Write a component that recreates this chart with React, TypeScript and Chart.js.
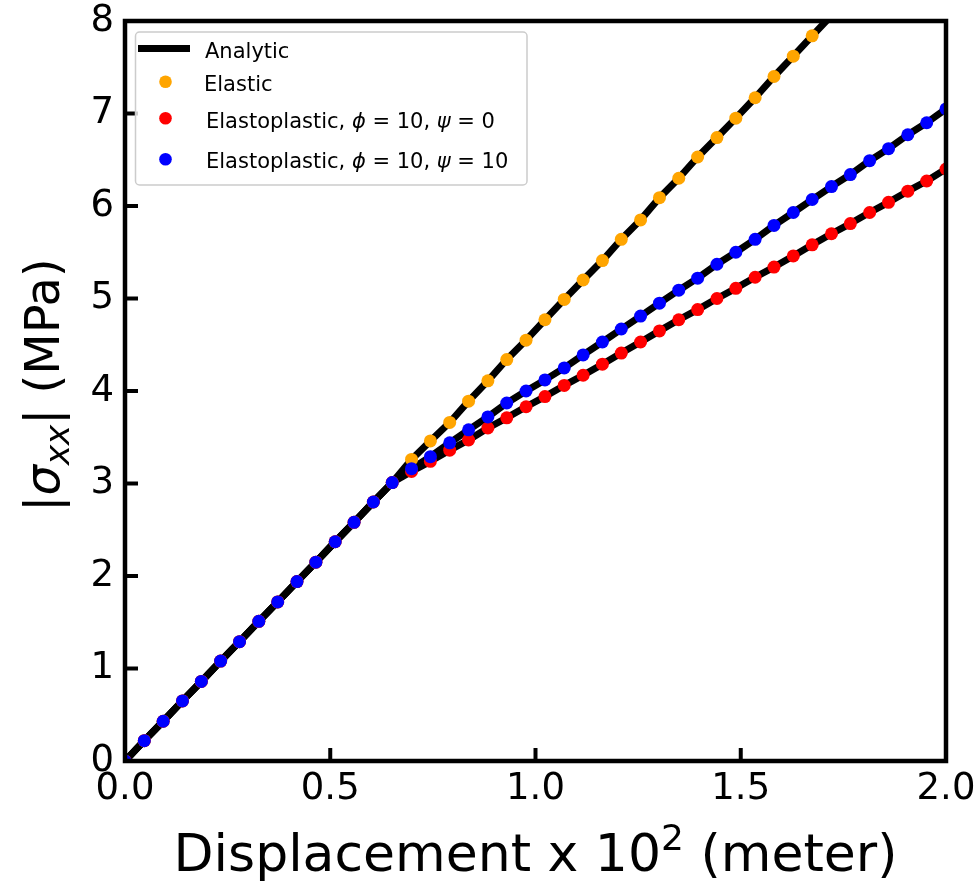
import React, { useEffect, useRef } from "react";
import { Chart, registerables } from "chart.js";

Chart.register(...registerables);

// ---------- data ----------
const xValues = [
  0, 0.047, 0.093, 0.14, 0.186, 0.233, 0.279, 0.326, 0.372, 0.419, 0.465,
  0.512, 0.558, 0.605, 0.651, 0.698, 0.744, 0.791, 0.837, 0.884, 0.93,
  0.977, 1.023, 1.07, 1.116, 1.163, 1.209, 1.256, 1.302, 1.349, 1.395,
  1.442, 1.488, 1.535, 1.581, 1.628, 1.674, 1.721, 1.767, 1.814, 1.86,
  1.907, 1.953, 2.0,
];

// shared elastic branch (before yield)
const sharedY = [
  0, 0.22, 0.43, 0.65, 0.86, 1.08, 1.29, 1.51, 1.72, 1.94, 2.15, 2.37, 2.58,
  2.8, 3.01,
];
const elasticTail = [
  3.26, 3.46, 3.66, 3.89, 4.11, 4.34, 4.55, 4.77, 4.99, 5.2, 5.41, 5.64, 5.85,
  6.09, 6.3, 6.53, 6.74, 6.95, 7.17, 7.4, 7.62, 7.84,
];
const elasticAnalyticExtra = [8.06];
const ep0Tail = [
  3.13, 3.24, 3.36, 3.47, 3.6, 3.71, 3.83, 3.94, 4.06, 4.17, 4.29, 4.41, 4.53,
  4.65, 4.77, 4.88, 5.0, 5.11, 5.23, 5.34, 5.46, 5.58, 5.7, 5.81, 5.93, 6.04,
  6.16, 6.27, 6.4,
];
const ep10Tail = [
  3.16, 3.29, 3.44, 3.58, 3.72, 3.87, 4.0, 4.12, 4.25, 4.39, 4.53, 4.67, 4.81,
  4.95, 5.09, 5.22, 5.37, 5.5, 5.64, 5.79, 5.93, 6.07, 6.21, 6.34, 6.49, 6.62,
  6.77, 6.9, 7.05,
];

const xTicks = [0, 0.5, 1.0, 1.5, 2.0];
const yTicks = [0, 1, 2, 3, 4, 5, 6, 7, 8];

const FONT = "'DejaVu Sans', sans-serif";
const ORANGE = "#FFA500";
const RED = "#FF0000";
const BLUE = "#0000FF";

function toPoints(ys: number[]) {
  return ys.map((y, i) => ({ x: xValues[i], y }));
}

type Part = { t: string; italic?: boolean; size: number; dy?: number };

function partsWidth(ctx: CanvasRenderingContext2D, parts: Part[]) {
  let w = 0;
  for (const p of parts) {
    ctx.font = `${p.italic ? "italic " : ""}${p.size}px ${FONT}`;
    w += ctx.measureText(p.t).width;
  }
  return w;
}

function drawParts(
  ctx: CanvasRenderingContext2D,
  x: number,
  y: number,
  parts: Part[]
) {
  let cx = x;
  for (const p of parts) {
    ctx.font = `${p.italic ? "italic " : ""}${p.size}px ${FONT}`;
    ctx.fillText(p.t, cx, y + (p.dy || 0));
    cx += ctx.measureText(p.t).width;
  }
}

const framePlugin = {
  id: "frameAndDecor",
  afterDatasetsDraw(chart: any) {
    const { ctx, chartArea: a, scales } = chart;
    ctx.save();
    ctx.strokeStyle = "#000";
    ctx.lineCap = "butt";
    ctx.lineWidth = 4;
    const tickLen = 13;
    for (const v of xTicks) {
      const px = scales.x.getPixelForValue(v);
      ctx.beginPath();
      ctx.moveTo(px, a.bottom);
      ctx.lineTo(px, a.bottom - tickLen);
      ctx.stroke();
    }
    for (const v of yTicks) {
      const py = scales.y.getPixelForValue(v);
      ctx.beginPath();
      ctx.moveTo(a.left, py);
      ctx.lineTo(a.left + tickLen, py);
      ctx.stroke();
    }
    ctx.lineWidth = 4.5;
    ctx.lineJoin = "miter";
    ctx.strokeRect(a.left, a.top, a.right - a.left, a.bottom - a.top);
    ctx.restore();
  },
  afterDraw(chart: any) {
    const { ctx, chartArea: a } = chart;
    ctx.save();
    ctx.fillStyle = "#000";
    ctx.textBaseline = "alphabetic";
    ctx.textAlign = "left";

    // x title
    const xParts: Part[] = [
      { t: "Displacement x 10", size: 52 },
      { t: "2", size: 36, dy: -21 },
      { t: " (meter)", size: 52 },
    ];
    const xw = partsWidth(ctx, xParts);
    drawParts(ctx, (a.left + a.right) / 2 - xw / 2, 871, xParts);

    // y title (rotated)
    const yParts: Part[] = [
      { t: "|", size: 48 },
      { t: "σ", italic: true, size: 48 },
      { t: "xx", italic: true, size: 34, dy: 10 },
      { t: "|", size: 48 },
      { t: " (MPa)", size: 48 },
    ];
    const yw = partsWidth(ctx, yParts);
    ctx.save();
    ctx.translate(59, 385);
    ctx.rotate(-Math.PI / 2);
    drawParts(ctx, -yw / 2, 0, yParts);
    ctx.restore();

    // legend
    const bx = a.left + 10.5;
    const by = a.top + 11;
    const bw = 391.5;
    const bh = 153;
    ctx.beginPath();
    ctx.roundRect(bx, by, bw, bh, 4);
    ctx.fillStyle = "rgba(255,255,255,0.8)";
    ctx.fill();
    ctx.strokeStyle = "#cccccc";
    ctx.lineWidth = 1.5;
    ctx.stroke();

    // analytic handle
    ctx.strokeStyle = "#000";
    ctx.lineWidth = 7;
    ctx.beginPath();
    ctx.moveTo(bx + 2.5, by + 16.5);
    ctx.lineTo(bx + 54.5, by + 16.5);
    ctx.stroke();

    const markers: [string, number][] = [
      [ORANGE, 49.7],
      [RED, 86.3],
      [BLUE, 127.3],
    ];
    for (const [c, dy] of markers) {
      ctx.beginPath();
      ctx.arc(bx + 30, by + dy, 6.3, 0, Math.PI * 2);
      ctx.fillStyle = c;
      ctx.fill();
    }
    ctx.fillStyle = "#000";
    const tx = bx + 69.5;
    const fs = 21;
    drawParts(ctx, tx, by + 26, [{ t: "Analytic", size: fs }]);
    drawParts(ctx, tx - 1, by + 59, [{ t: "Elastic", size: fs }]);
    drawParts(ctx, tx + 1, by + 95.7, [
      { t: "Elastoplastic, ", size: fs },
      { t: "ϕ", italic: true, size: fs },
      { t: " = 10, ", size: fs },
      { t: "ψ", italic: true, size: fs },
      { t: " = 0", size: fs },
    ]);
    drawParts(ctx, tx + 1, by + 136.3, [
      { t: "Elastoplastic, ", size: fs },
      { t: "ϕ", italic: true, size: fs },
      { t: " = 10, ", size: fs },
      { t: "ψ", italic: true, size: fs },
      { t: " = 10", size: fs },
    ]);
    ctx.restore();
  },
};

export default function App() {
  const canvasRef = useRef<HTMLCanvasElement | null>(null);

  useEffect(() => {
    const canvas = canvasRef.current;
    if (!canvas) return;

    const elasticY = sharedY.concat(elasticTail);
    const elasticAnalyticY = elasticY.concat(elasticAnalyticExtra);
    const ep0Y = sharedY.concat(ep0Tail);
    const ep10Y = sharedY.concat(ep10Tail);

    const lineDs = (label: string, ys: number[]) => ({
      label,
      data: toPoints(ys),
      showLine: true,
      borderColor: "#000",
      backgroundColor: "#000",
      borderWidth: 7,
      pointRadius: 0,
      tension: 0,
      order: 4,
      clip: 0,
      borderJoinStyle: "round" as const,
    });
    const pointDs = (label: string, ys: number[], color: string, order: number) => ({
      label,
      data: toPoints(ys),
      showLine: false,
      borderColor: color,
      backgroundColor: color,
      borderWidth: 0,
      pointRadius: 6.5,
      pointHoverRadius: 6.5,
      order,
      clip: 0,
    });

    const noPad = (s: any) => {
      s.paddingTop = 0;
      s.paddingBottom = 0;
      s.paddingLeft = 0;
      s.paddingRight = 0;
    };

    const chart = new Chart(canvas, {
      type: "line",
      data: {
        datasets: [
          lineDs("Analytic", elasticAnalyticY),
          lineDs("Analytic ep0", ep0Y),
          lineDs("Analytic ep10", ep10Y),
          pointDs("Elastic", elasticY, ORANGE, 3),
          pointDs("Elastoplastic, ϕ = 10, ψ = 0", ep0Y, RED, 2),
          pointDs("Elastoplastic, ϕ = 10, ψ = 10", ep10Y, BLUE, 1),
        ] as any,
      },
      options: {
        animation: false,
        responsive: false,
        maintainAspectRatio: false,
        devicePixelRatio: 1,
        layout: { padding: { left: 0, top: 21, right: 34, bottom: 0 } },
        plugins: {
          legend: { display: false },
          tooltip: { enabled: false },
        },
        events: [],
        scales: {
          x: {
            type: "linear",
            min: 0,
            max: 2,
            afterFit: (s: any) => {
              s.height = 120;
              noPad(s);
            },
            afterBuildTicks: (s: any) => {
              s.ticks = xTicks.map((v) => ({ value: v }));
            },
            ticks: {
              font: { family: FONT, size: 37 },
              color: "#000",
              padding: 6,
              autoSkip: false,
              maxRotation: 0,
              callback: (v: any) => Number(v).toFixed(1),
            },
            grid: { display: false, drawTicks: false },
            border: { display: false },
          },
          y: {
            type: "linear",
            min: 0,
            max: 8,
            afterFit: (s: any) => {
              s.width = 125;
              noPad(s);
            },
            afterBuildTicks: (s: any) => {
              s.ticks = yTicks.map((v) => ({ value: v }));
            },
            ticks: {
              font: { family: FONT, size: 37 },
              color: "#000",
              padding: 11,
              autoSkip: false,
              callback: (v: any) => String(v),
            },
            grid: { display: false, drawTicks: false },
            border: { display: false },
          },
        },
      } as any,
      plugins: [framePlugin],
    });

    return () => {
      chart.destroy();
    };
  }, []);

  return (
    <div
      style={{
        position: "fixed",
        left: 0,
        top: 0,
        width: 980,
        height: 881,
        background: "#fff",
      }}
    >
      <canvas ref={canvasRef} width={980} height={881} style={{ display: "block" }} />
    </div>
  );
}
